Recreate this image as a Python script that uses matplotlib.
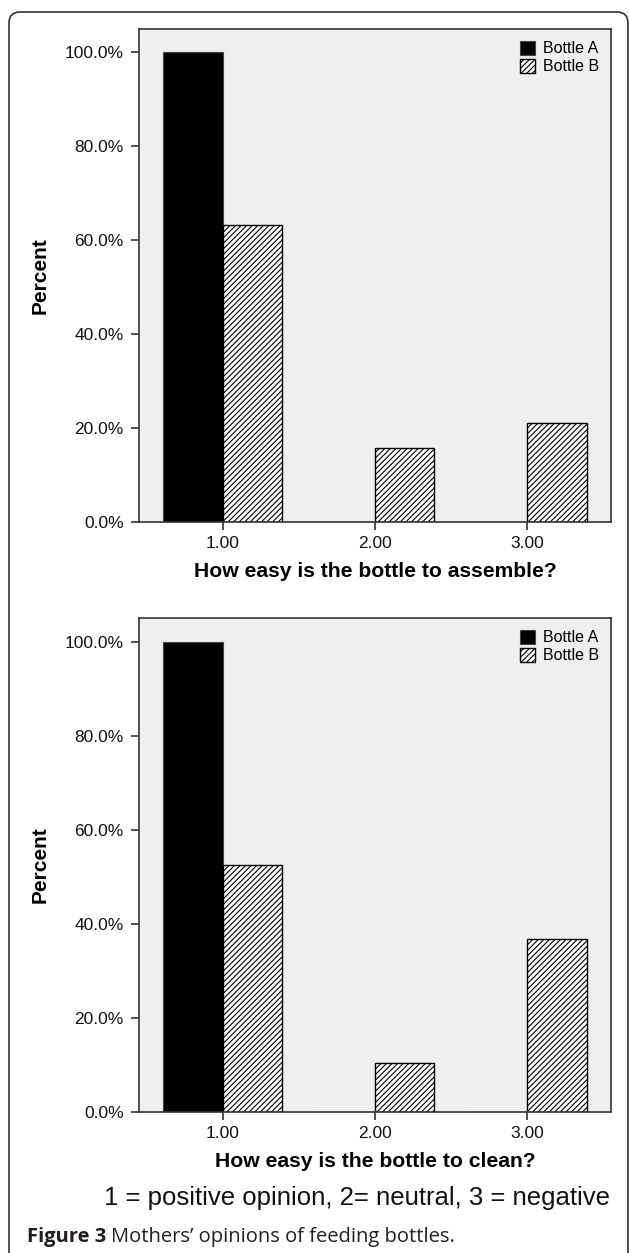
import numpy as np
import matplotlib
matplotlib.use("Agg")
import matplotlib.pyplot as plt
from matplotlib.patches import FancyBboxPatch
from matplotlib.ticker import FuncFormatter

# data (percent of mothers per answer)
categories = [1, 2, 3]
tick_labels = ["1.00", "2.00", "3.00"]
assemble_a = [100.0, 0.0, 0.0]
assemble_b = [63.2, 15.8, 21.0]
clean_a = [100.0, 0.0, 0.0]
clean_b = [52.6, 10.5, 36.8]
yticks = [0, 20, 40, 60, 80, 100]

plt.rcParams["font.family"] = ["Liberation Sans", "DejaVu Sans"]
plt.rcParams["hatch.linewidth"] = 0.8

W, H = 629, 1253
fig = plt.figure(figsize=(W / 100, H / 100), dpi=100)

spine_col = "#333333"


def draw_panel(ax, a_vals, b_vals, xlabel):
    x = np.array(categories, dtype=float)
    w = 0.39
    ax.set_facecolor("#efefef")
    ax.bar(x - w / 2, a_vals, w, color="black", edgecolor="#444444",
           linewidth=0.8, label="Bottle A", zorder=2)
    ax.bar(x + w / 2, b_vals, w, color="white", edgecolor="black",
           hatch="//////", linewidth=1.0, label="Bottle B", zorder=2)
    ax.set_xlim(0.45, 3.55)
    ax.set_ylim(0, 105)
    ax.set_xticks(categories)
    ax.set_xticklabels(tick_labels)
    ax.set_yticks(yticks)
    ax.yaxis.set_major_formatter(FuncFormatter(lambda v, p: f"{v:.1f}%"))
    ax.tick_params(axis="both", direction="out", length=6, width=1.2,
                   color=spine_col, labelsize=12.5, labelcolor="#111111")
    ax.tick_params(axis="y", pad=5)
    ax.tick_params(axis="x", pad=4)
    for s in ax.spines.values():
        s.set_color(spine_col)
        s.set_linewidth(1.2)
    ax.set_xlabel(xlabel, fontsize=15.2, fontweight="bold", labelpad=8)
    ax.set_ylabel("Percent", fontsize=15, fontweight="bold", labelpad=11)
    ax.legend(loc="upper right", bbox_to_anchor=(1.0, 1.0), frameon=False,
              fontsize=11.5, handlelength=0.95, handleheight=0.95,
              handletextpad=0.5, labelspacing=0.15, borderaxespad=0.35)


ax1 = fig.add_axes([139 / W, 1 - 522 / H, 472 / W, 493 / H])
draw_panel(ax1, assemble_a, assemble_b, "How easy is the bottle to assemble?")

ax2 = fig.add_axes([139 / W, 1 - 1112 / H, 472 / W, 494 / H])
draw_panel(ax2, clean_a, clean_b, "How easy is the bottle to clean?")

fig.text(357 / W, 1 - 1198 / H, "1 = positive opinion, 2= neutral, 3 = negative",
         fontsize=18.5, ha="center", va="center", color="#111111")

# caption with bold lead
cap_y = 1 - 1237 / H
t1 = fig.text(27 / W, cap_y, "Figure 3", fontsize=14.5, fontweight="bold",
              family=["Open Sans", "DejaVu Sans"], color="#231f20",
              ha="left", va="center")
fig.canvas.draw()
bb = t1.get_window_extent(renderer=fig.canvas.get_renderer())
fig.text((bb.x1 + 5) / W, cap_y, "Mothers\u2019 opinions of feeding bottles.",
         fontsize=14.5, family=["Open Sans", "DejaVu Sans"], color="#231f20",
         ha="left", va="center")

# rounded outer frame, runs off the right and bottom edges
frame = FancyBboxPatch((9, -30), 619, H - 12 + 30,
                       boxstyle="round,pad=0,rounding_size=11",
                       facecolor="none", edgecolor="#333333", linewidth=1.2,
                       transform=None)
fig.add_artist(frame)

fig.savefig("out.png", dpi=100)
